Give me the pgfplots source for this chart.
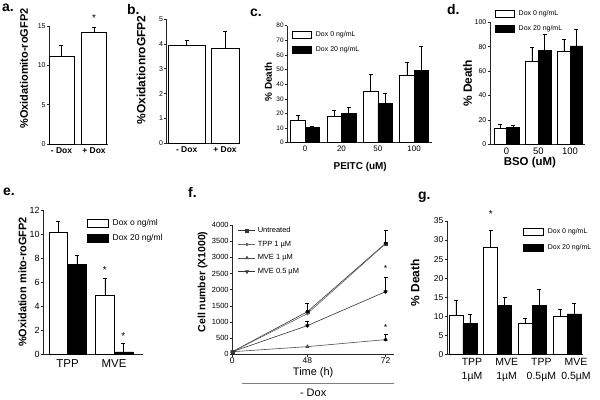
\documentclass[border=0pt]{standalone}
\usepackage{pgfplots}
\pgfplotsset{compat=1.18}
\usepackage{fontspec}
\setmainfont{Liberation Sans}
\newcommand{\fs}[1]{\fontsize{#1}{#1}\selectfont}
\def\lw{19bp}\def\lh{7bp}

\pgfplotsset{
  panel/.style={scale only axis, anchor=south west,
    axis x line*=bottom, axis y line*=left,
    axis line style={-, line width=0.5pt, black!85},
    tick align=outside, major tick length=2.5bp,
    tick style={line width=0.5pt, black!85},
    ymin=0, clip=false,
    /pgf/number format/assume math mode=true,
    /pgf/number format/1000 sep={},
    yticklabel style={inner sep=1bp},
    xticklabel style={inner sep=1bp},
    ylabel style={anchor=center},
    xlabel style={anchor=center},
    legend cell align=left},
  barpanel/.style={panel, ybar=0pt, xtick style={draw=none},
    legend style={draw=none, fill=none, inner sep=0pt, row sep=5bp,
      anchor=north west,
      /tikz/every odd column/.append style={column sep=2bp}}},
  errs/.style={error bars/y dir=plus, error bars/y explicit,
    error bars/error bar style={black, line width=0.5pt},
    error bars/error mark options={rotate=90, mark size=2bp, line width=0.5pt, black}},
  boxleg/.style={legend image code/.code={\draw[##1] (0bp,-0.5*\lh) rectangle (\lw,0.5*\lh);}},
  wbar/.style={fill=white, draw=black, line width=0.5pt, errs, boxleg},
  kbar/.style={fill=black, draw=black, line width=0.5pt, errs, boxleg},
}

\begin{document}
\begin{tikzpicture}
\path[use as bounding box] (0,0) rectangle (600bp,400bp);

% panel letters
\node[font=\fs{14}\bfseries, anchor=north west, inner sep=0pt] at (2bp,396bp) {a.};
\node[font=\fs{14}\bfseries, anchor=north west, inner sep=0pt] at (127bp,396bp) {b.};
\node[font=\fs{14}\bfseries, anchor=north west, inner sep=0pt] at (250bp,391bp) {c.};
\node[font=\fs{14}\bfseries, anchor=north west, inner sep=0pt] at (447bp,396bp) {d.};
\node[font=\fs{14}\bfseries, anchor=north west, inner sep=0pt] at (3bp,212bp) {e.};
\node[font=\fs{14}\bfseries, anchor=north west, inner sep=0pt] at (188bp,213bp) {f.};
\node[font=\fs{14}\bfseries, anchor=north west, inner sep=0pt] at (418bp,208bp) {g.};

% a
\begin{axis}[barpanel, at={(49.3bp,256bp)}, width=58.7bp, height=118bp,
  xmin=-0.375, xmax=1.43, ymax=15, ytick={0,5,10,15},
  xtick={0,1}, xticklabels={- Dox,+ Dox}, bar width=25bp,
  yticklabel style={font=\fs{7}}, xticklabel style={font=\fs{8.5}\bfseries},
  ylabel={\%Oxidatiomito-roGFP2},
  ylabel style={font=\fs{11}\bfseries, at={(axis description cs:-0.43,0.64)}}]
\addplot[wbar] coordinates {(0,11.1) +- (0,1.5) (1,14.2) +- (0,0.6)};
\node[font=\fs{10}] at (axis cs:1,16) {*};
\end{axis}

% b
\begin{axis}[barpanel, at={(166.7bp,256.7bp)}, width=73.3bp, height=124.3bp,
  xmin=-0.52, xmax=1.39, ymax=5, ytick={0,1,...,5},
  xtick={0,1}, xticklabels={- Dox,+ Dox},
  yticklabel style={font=\fs{7}}, xticklabel style={font=\fs{8.5}\bfseries},
  ylabel={\%OxidationroGFP2},
  ylabel style={font=\fs{12}\bfseries, at={(axis description cs:-0.35,0.59)}}]
\addplot[wbar, bar shift=0pt, bar width=36.7bp] coordinates {(0,3.95) +- (0,0.21)};
\addplot[wbar, bar shift=0pt, bar width=28bp] coordinates {(1,3.82) +- (0,0.67)};
\end{axis}

% c
\begin{axis}[barpanel, at={(287.3bp,257.3bp)}, width=145bp, height=117bp,
  xmin=-0.49, xmax=3.5, ymax=80, ytick={0,10,...,80},
  xtick={0,1,2,3}, xticklabels={0,20,50,100}, bar width=14.5bp,
  yticklabel style={font=\fs{6.5}}, xticklabel style={font=\fs{8}},
  ylabel={\% Death},
  ylabel style={font=\fs{10}\bfseries, at={(axis description cs:-0.131,0.52)}},
  xlabel={PEITC (uM)},
  xlabel style={font=\fs{10}\bfseries, at={(axis description cs:0.503,-0.208)}},
  legend style={at={(axis description cs:0.034,0.97)}, font=\fs{7}}]
\addplot[wbar] coordinates {(0,15.3) +- (0,3.6) (1,18) +- (0,3.9) (2,35.1) +- (0,11.8) (3,46) +- (0,8.7)};
\addplot[kbar] coordinates {(0,10.5) +- (0,0.9) (1,20.3) +- (0,3.8) (2,26.9) +- (0,6.8) (3,49.2) +- (0,16.8)};
\legend{Dox 0 ng/mL, Dox 20 ng/mL}
\end{axis}

% d
\begin{axis}[barpanel, at={(490bp,255.7bp)}, width=95bp, height=122bp,
  xmin=-0.52, xmax=2.47, ymax=100, ytick={0,20,...,100},
  xtick={0,1,2}, xticklabels={0,50,100}, bar width=12.6bp,
  yticklabel style={font=\fs{7}}, xticklabel style={font=\fs{9.5}},
  ylabel={\% Death},
  ylabel style={font=\fs{12}\bfseries, at={(axis description cs:-0.237,0.50)}},
  xlabel={BSO (uM)},
  xlabel style={font=\fs{11.5}\bfseries, at={(axis description cs:0.42,-0.153)}},
  legend style={at={(axis description cs:0.053,1.117)}, font=\fs{7}}]
\addplot[wbar] coordinates {(0,13.1) +- (0,3.6) (1,68.3) +- (0,10.9) (2,76) +- (0,10)};
\addplot[kbar] coordinates {(0,13.9) +- (0,1.4) (1,77) +- (0,13.2) (2,80.6) +- (0,13.7)};
\legend{Dox 0 ng/mL, Dox 20 ng/mL}
\end{axis}

% e
\def\lw{21bp}\def\lh{8bp}
\begin{axis}[barpanel, at={(43.3bp,45.7bp)}, width=99.7bp, height=144.3bp,
  xmin=-0.52, xmax=1.62, ymax=12, ytick={0,2,...,12},
  xtick={0,1}, xticklabels={TPP,MVE}, bar width=18.7bp,
  yticklabel style={font=\fs{9}}, xticklabel style={font=\fs{11.5}, yshift=-2bp},
  ylabel={\%Oxidation mito-roGFP2},
  ylabel style={font=\fs{11}\bfseries, at={(axis description cs:-0.209,0.5)}},
  legend style={at={(axis description cs:0.438,0.95)}, font=\fs{8.5}, row sep=3bp}]
\addplot[wbar] coordinates {(0,10.14) +- (0,0.96) (1,4.9) +- (0,1.4)};
\addplot[kbar] coordinates {(0,7.48) +- (0,0.77) (1,0.2) +- (0,0.69)};
\legend{Dox o ng/ml, Dox 20 ng/ml}
\node[font=\fs{10}] at (axis cs:0.8,7.0) {*};
\node[font=\fs{10}] at (axis cs:1.2,1.5) {*};
\end{axis}

% f
\begin{axis}[panel, at={(232.3bp,45.7bp)}, width=161.7bp, height=129.3bp,
  xmin=0, xmax=2.11, ymax=4000, ytick={0,500,...,4000},
  xtick={0,0.98,2}, xticklabels={0,48,72},
  yticklabel style={font=\fs{7.5}}, xticklabel style={font=\fs{8.5}},
  ylabel={Cell number (X1000)},
  ylabel style={font=\fs{10.5}\bfseries, at={(axis description cs:-0.184,0.56)}},
  xlabel={Time (h)},
  xlabel style={font=\fs{11}, at={(axis description cs:0.5,-0.145)}},
  legend style={draw=none, fill=none, inner sep=0pt, row sep=3bp, anchor=north west,
    at={(axis description cs:0.035,1.0)}, font=\fs{7.5}},
  every axis plot/.append style={line width=0.6pt, mark size=1.5bp}]
\addplot[black!80, mark=square*] coordinates {(0,80) (0.98,1320) (2,3433)};
\addplot[black!60, mark=*, mark size=1.4bp] coordinates {(0,80) (0.98,1258) (2,3420)};
\addplot[black!70, mark=triangle*, mark size=1.8bp] coordinates {(0,80) (0.98,237) (2,454)};
\addplot[black!80, mark=triangle*, mark size=1.8bp, mark options={rotate=180}] coordinates {(0,80) (0.98,887) (2,1938)};
\addplot[forget plot, only marks, mark=none, errs] coordinates {(0.98,1320) +- (0,247) (2,3433) +- (0,392) (0.98,887) +- (0,123) (2,1938) +- (0,443) (2,454) +- (0,165)};
\legend{Untreated, TPP 1 µM, MVE 1 µM, MVE 0.5 µM}
\node[font=\fs{9}] at (axis cs:2,2660) {*};
\node[font=\fs{9}] at (axis cs:2,835) {*};
\draw[black!50, line width=1pt] (rel axis cs:0.06,-0.222) -- (rel axis cs:1,-0.222);
\node[font=\fs{11}] at (rel axis cs:0.5,-0.30) {- Dox};
\end{axis}

% g
\def\lw{20bp}\def\lh{7bp}
\begin{axis}[barpanel, at={(447bp,45.7bp)}, width=136bp, height=133.3bp,
  xmin=-0.46, xmax=3.46, ymax=35, ytick={0,5,...,35},
  xtick={0,1,2,3}, xticklabels={TPP\\1µM, MVE\\1µM, TPP\\0.5µM, MVE\\0.5µM},
  bar width=14bp,
  yticklabel style={font=\fs{8.5}},
  xticklabel style={font=\fontsize{10.5}{14}\selectfont, align=center, xshift=9bp},
  ylabel={\% Death},
  ylabel style={font=\fs{12}\bfseries, at={(axis description cs:-0.235,0.535)}},
  legend style={at={(axis description cs:0.56,0.96)}, font=\fs{7}}]
\addplot[wbar] coordinates {(0,10.3) +- (0,4.0) (1,28.0) +- (0,4.5) (2,8.1) +- (0,1.3) (3,9.95) +- (0,1.95)};
\addplot[kbar] coordinates {(0,8.1) +- (0,2.4) (1,12.9) +- (0,2.0) (2,12.8) +- (0,4.3) (3,10.6) +- (0,2.8)};
\legend{Dox 0 ng/mL, Dox 20 ng/mL}
\node[font=\fs{10}] at (axis cs:0.8,36.9) {*};
\end{axis}
\end{tikzpicture}
\end{document}
